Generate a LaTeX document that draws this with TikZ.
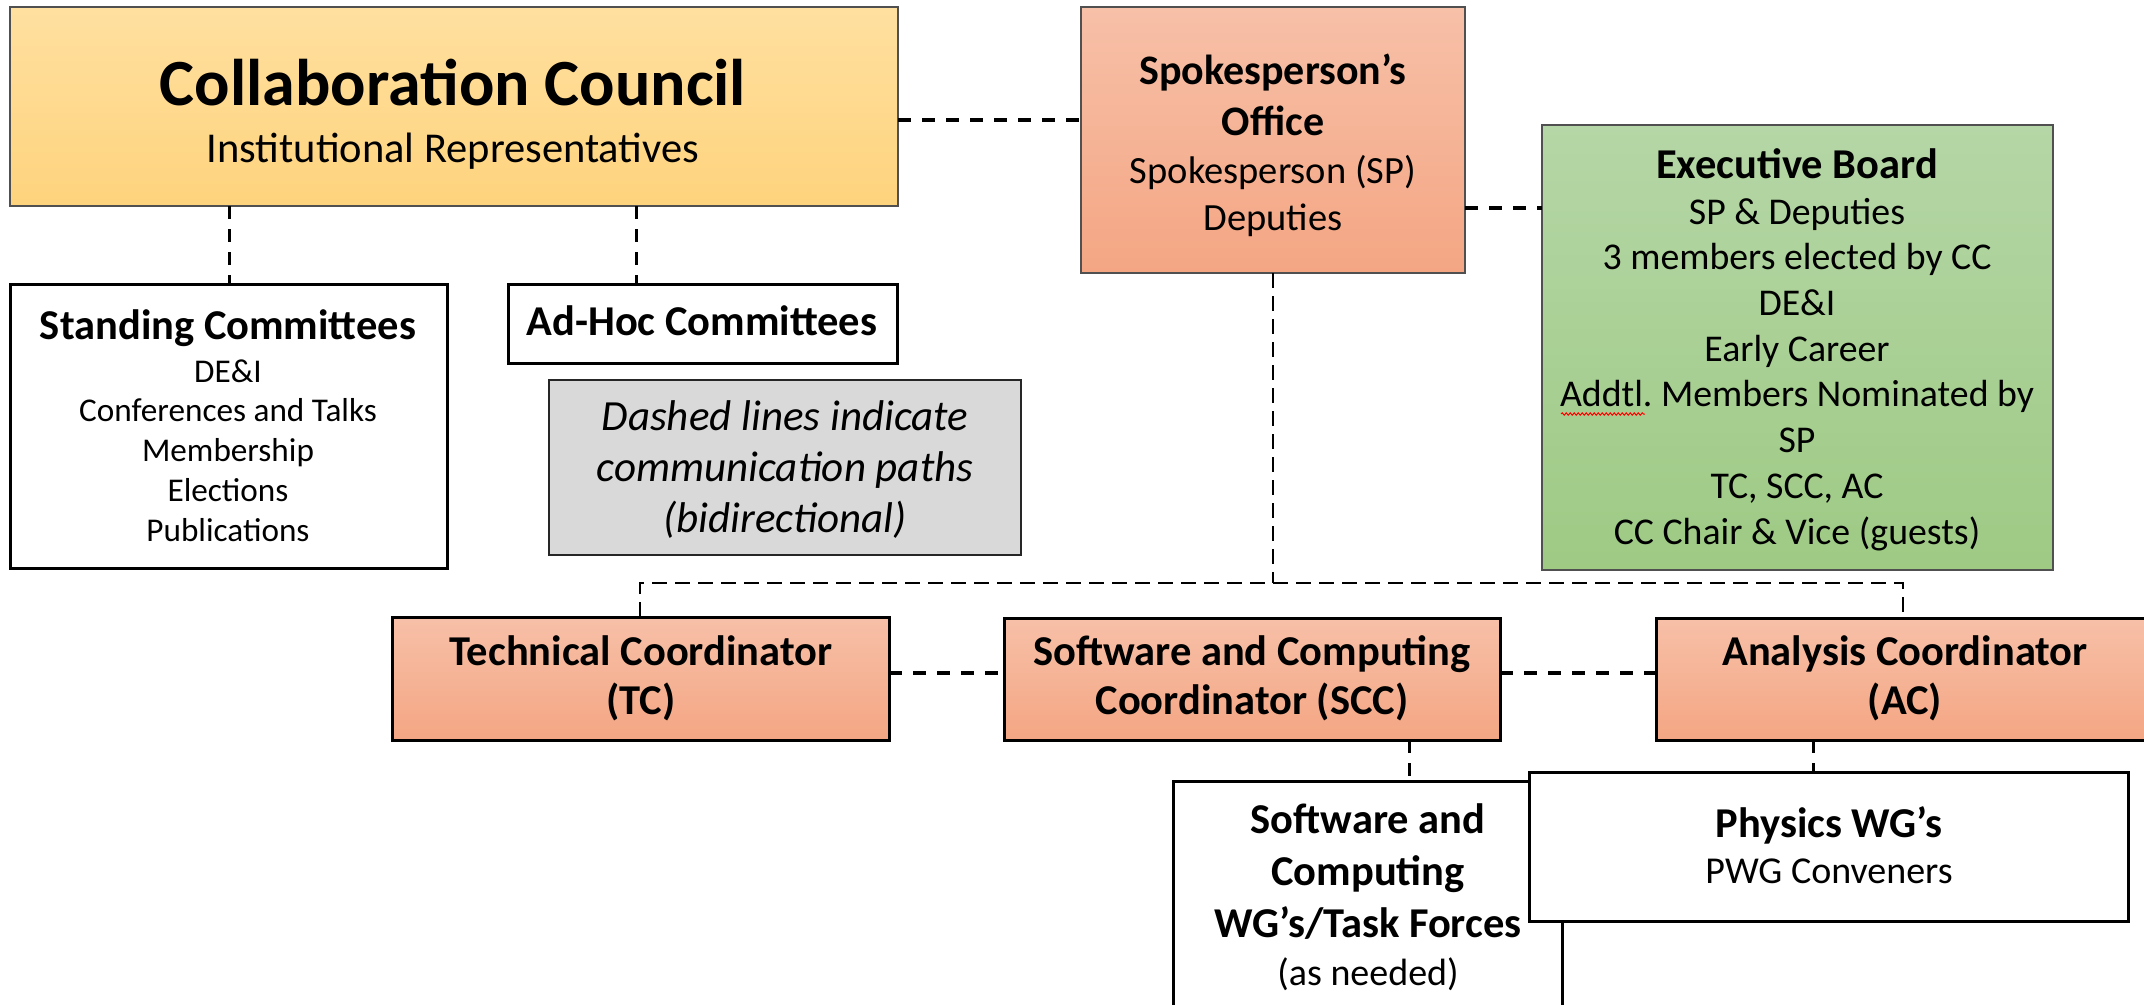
\documentclass[tikz,border=0pt]{standalone}
\usepackage{fontspec}
\setmainfont{Carlito}
\usetikzlibrary{decorations.pathmorphing}
\definecolor{ccTop}{RGB}{255,224,160}
\definecolor{ccBot}{RGB}{254,211,125}
\definecolor{saTop}{RGB}{247,192,168}
\definecolor{saBot}{RGB}{244,166,131}
\definecolor{grTop}{RGB}{181,214,166}
\definecolor{grBot}{RGB}{158,202,132}
\definecolor{noteGray}{RGB}{217,217,217}
\definecolor{edgeGray}{RGB}{80,80,80}
\tikzset{
 fbox/.style={inner sep=0pt, outer sep=0pt, anchor=north west},
 ccbox/.style={fbox, draw=edgeGray, line width=1.5pt, top color=ccTop, bottom color=ccBot},
 sobox/.style={fbox, draw=edgeGray, line width=1.5pt, top color=saTop, bottom color=saBot},
 ebbox/.style={fbox, draw=edgeGray, line width=1.5pt, top color=grTop, bottom color=grBot},
 coordbox/.style={fbox, draw=black, line width=3pt, top color=saTop, bottom color=saBot},
 whitebox/.style={fbox, draw=black, line width=3pt, fill=white},
 notebox/.style={fbox, draw=black!85, line width=2pt, fill=noteGray},
 txt/.style={anchor=base, inner sep=0pt, align=center},
 comm/.style={line width=4pt, dash pattern=on 13pt off 11pt},
 link/.style={line width=3pt, dash pattern=on 13pt off 10pt},
 bus/.style={line width=2.5pt, dash pattern=on 15pt off 8pt},
 hd/.style={font=\bfseries\fontsize{42.5}{49}\selectfont},
}
\frenchspacing
\begin{document}
\begin{tikzpicture}[x=1pt,y=-1pt]
\useasboundingbox (0,0) rectangle (2144,1004);
\clip (0,0) rectangle (2144,1004);
% boxes
\node[ccbox, minimum width=888pt, minimum height=199pt] (cc) at (10,7) {};
\node[sobox, minimum width=384pt, minimum height=266pt] (so) at (1081,7) {};
\node[ebbox, minimum width=511pt, minimum height=445pt] (eb) at (1542,125) {};
\node[whitebox, minimum width=437pt, minimum height=284pt] (stand) at (10,284) {};
\node[whitebox, minimum width=389pt, minimum height=79pt] (adhoc) at (508,284) {};
\node[notebox, minimum width=472pt, minimum height=175pt] (note) at (549,380) {};
\node[coordbox, minimum width=497pt, minimum height=123pt] (tc) at (392,617) {};
\node[coordbox, minimum width=496pt, minimum height=122pt] (scc) at (1004,618) {};
\node[coordbox, minimum width=498pt, minimum height=122pt] (ac) at (1656,618) {};
\node[whitebox, minimum width=389pt, minimum height=240pt] (scwg) at (1173,781) {};
\node[whitebox, minimum width=599pt, minimum height=149pt] (pwg) at (1529,772) {};
% helper coordinates
\coordinate (yA) at (0,120);
\coordinate (yB) at (0,208);
\coordinate (yC) at (0,673);
\coordinate (bus) at (0,583);
\coordinate (xS) at (229,0);
\coordinate (xH) at (636,0);
\coordinate (xT) at (640,0);
\coordinate (xA) at (1903,0);
\coordinate (xW) at (1409,0);
\coordinate (xP) at (1813,0);
% connectors
\draw[comm] (cc.east |- yA) -- (so.west |- yA);
\draw[comm] (so.east |- yB) -- (eb.west |- yB);
\draw[link] (cc.south -| xS) -- (stand.north -| xS);
\draw[link] (cc.south -| xH) -- (adhoc.north -| xH);
\draw[bus] (so.south) -- (so.south |- bus);
\draw[bus] (tc.north -| xT) -- (xT |- bus) -- (xA |- bus) -- (ac.north -| xA);
\draw[comm] (tc.east |- yC) -- (scc.west |- yC);
\draw[comm] (scc.east |- yC) -- (ac.west |- yC);
\draw[link] (scc.south -| xW) -- (scwg.north -| xW);
\draw[link] (ac.south -| xP) -- (pwg.north -| xP);
% texts (anchor = baseline of the last line)
\node[txt, font=\bfseries\fontsize{66}{70}\selectfont] (cc-t) at (453,105) {Collaboration Council};
\node[txt, font=\fontsize{42.5}{50}\selectfont] (cc-s) at (453,162) {Institutional Representatives};
\node[txt, font=\bfseries\fontsize{42}{51}\selectfont] (so-t) at (1273,135) {Spokesperson’s\\Office};
\node[txt, font=\fontsize{38.5}{47}\selectfont] (so-s) at (1273,230) {Spokesperson (SP)\\Deputies};
\node[txt, hd] (eb-t) at (1797,178) {Executive Board};
\node[txt, font=\fontsize{37.8}{45.7}\selectfont] (eb-s) at (1797,544) {SP \& Deputies\\3 members elected by CC\\DE\&I\\Early Career\\Addtl.\ Members Nominated by\\SP\\TC, SCC, AC\\CC Chair \& Vice (guests)};
\draw[red, line width=1pt, decorate, decoration={snake, amplitude=1.2pt, segment length=4pt}] (1561,414) -- (1645,414);
\node[txt, hd] (st-t) at (228,339) {Standing Committees};
\node[txt, font=\fontsize{33.2}{39.75}\selectfont] (st-s) at (228,541) {DE\&I\\Conferences and Talks\\Membership\\Elections\\Publications};
\node[txt, hd] (ah-t) at (702,335) {Ad-Hoc Committees};
\node[txt, font=\itshape\fontsize{43}{51}\selectfont] (nt-t) at (785,532) {Dashed lines indicate\\communication paths\\(bidirectional)};
\node[txt, hd] (tc-t) at (641,714) {Technical Coordinator\\(TC)};
\node[txt, hd] (scc-t) at (1252,714) {Software and Computing\\Coordinator (SCC)};
\node[txt, hd] (ac-t) at (1905,714) {Analysis Coordinator\\(AC)};
\node[txt, font=\bfseries\fontsize{42.5}{52}\selectfont] (sw-t) at (1368,937) {Software and\\Computing\\WG’s/Task Forces};
\node[txt, font=\fontsize{38}{48}\selectfont] (sw-s) at (1368,985) {(as needed)};
\node[txt, hd] (pw-t) at (1829,837) {Physics WG’s};
\node[txt, font=\fontsize{38}{48}\selectfont] (pw-s) at (1829,883) {PWG Conveners};
\end{tikzpicture}
\end{document}
